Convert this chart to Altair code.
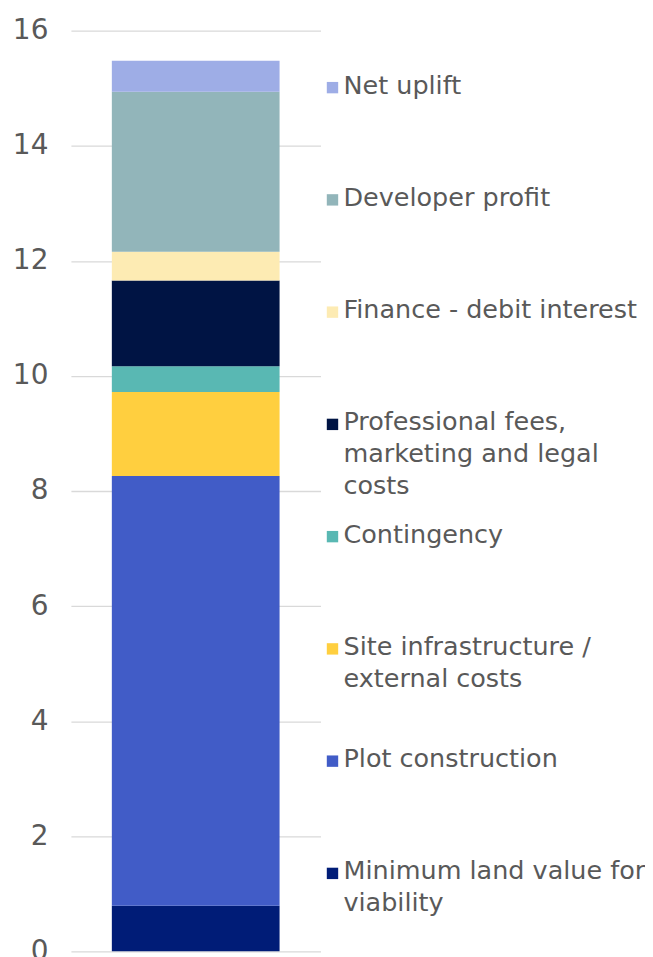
import altair as alt
import pandas as pd

# Stack order: bottom to top
categories = [
    "Minimum land value for viability",
    "Plot construction",
    "Site infrastructure / external costs",
    "Contingency",
    "Professional fees, marketing and legal costs",
    "Finance - debit interest",
    "Developer profit",
    "Net uplift",
]
values = [0.79, 7.47, 1.46, 0.45, 1.49, 0.50, 2.78, 0.54]
colors = ["#001C77", "#415CC7", "#FFCF3F", "#59B8B3", "#001444", "#FDEBB3", "#92B5BA", "#9EADE6"]
legend_labels = [
    "Minimum land value for\nviability",
    "Plot construction",
    "Site infrastructure /\nexternal costs",
    "Contingency",
    "Professional fees,\nmarketing and legal\ncosts",
    "Finance - debit interest",
    "Developer profit",
    "Net uplift",
]
y_ticks = [0, 2, 4, 6, 8, 10, 12, 14, 16]

df = pd.DataFrame({
    "category": categories,
    "value": values,
    "order": list(range(len(categories))),
    "group": ["Scheme"] * len(categories),
    "legend": legend_labels,
})

top_down = list(reversed(categories))
color_scale = alt.Scale(domain=categories, range=colors)
FONT = "DejaVu Sans"
TEXT_COLOR = "#595959"

bars = alt.Chart(df).mark_bar(size=168).encode(
    x=alt.X("group:N", axis=None, scale=alt.Scale(paddingInner=0, paddingOuter=0)),
    y=alt.Y(
        "value:Q",
        stack="zero",
        scale=alt.Scale(domain=[0, 16], nice=False),
        axis=alt.Axis(
            values=y_ticks,
            title=None,
            domain=False,
            ticks=False,
            tickSize=0,
            labelFontSize=28,
            labelFont=FONT,
            labelColor=TEXT_COLOR,
            labelPadding=23,
            gridColor="#D9D9D9",
            gridWidth=1.3,
        ),
    ),
    color=alt.Color("category:N", scale=color_scale, legend=None),
    order=alt.Order("order:Q", sort="ascending"),
)

legend_y = alt.Y(
    "category:N",
    scale=alt.Scale(type="point", domain=top_down, range=[63, 850], padding=0),
    axis=None,
)

squares = alt.Chart(df).mark_square(size=130, filled=True, opacity=1, yOffset=-6).encode(
    x=alt.value(262),
    y=legend_y,
    color=alt.Color("category:N", scale=color_scale, legend=None),
)

texts = alt.Chart(df).mark_text(
    align="left",
    baseline="alphabetic",
    font=FONT,
    fontSize=25.5,
    color=TEXT_COLOR,
    lineBreak="\n",
    lineHeight=32,
).encode(
    x=alt.value(273),
    y=legend_y,
    text="legend:N",
)

chart = alt.layer(bars, squares, texts).resolve_scale(
    y="independent"
).properties(
    width=250,
    height=922,
    autosize="none",
    padding={"left": 63, "top": 22, "right": 325, "bottom": 20},
).configure_view(stroke=None)

chart.save("out.html", embed_options={"renderer": "svg", "actions": False})
